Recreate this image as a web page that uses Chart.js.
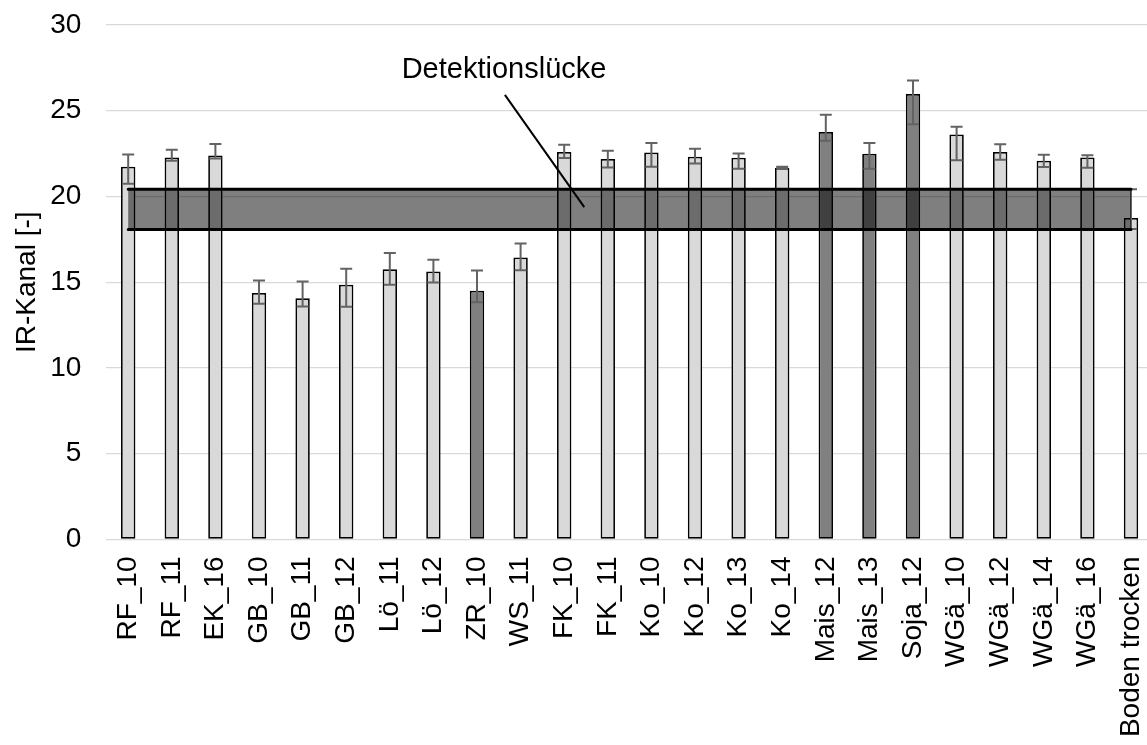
<!DOCTYPE html>
<html><head><meta charset="utf-8">
<script src="https://cdn.jsdelivr.net/npm/chart.js@4.4.1/dist/chart.umd.min.js"></script>
<style>
html,body{margin:0;padding:0;overflow:hidden;background:#fff;width:1147px;height:745px}
#wrap{position:absolute;left:0;top:0;width:1160px;height:745px}
canvas{display:block}
</style>
</head><body><div id="wrap"><canvas id="c" width="1160" height="745" style="width:1160px;height:745px"></canvas></div>
<script>
// ---- data ----
const categories = ['RF_10','RF_11','EK_16','GB_10','GB_11','GB_12','Lö_11','Lö_12','ZR_10','WS_11','FK_10','FK_11','Ko_10','Ko_12','Ko_13','Ko_14','Mais_12','Mais_13','Soja_12','WGä_10','WGä_12','WGä_14','WGä_16','Boden trocken'];
const values  = [21.73,22.28,22.39,14.38,14.07,14.85,15.76,15.63,14.50,16.44,22.59,22.18,22.57,22.32,22.26,21.66,23.76,22.49,25.97,23.62,22.59,22.08,22.28,18.74];
const errHigh = [22.45,22.72,23.06,15.10,15.04,15.78,16.70,16.31,15.68,17.26,23.02,22.67,23.12,22.78,22.51,21.73,24.77,23.12,26.77,24.07,23.04,22.43,22.41,20.43];
const errLow  = [20.74,22.08,22.22,13.74,13.58,13.57,14.85,14.98,13.84,15.70,22.24,21.69,21.73,21.93,21.62,21.62,23.25,21.62,24.22,22.12,22.14,21.72,21.67,18.10];
const darkBars = ['ZR_10','Mais_12','Mais_13','Soja_12'];
const yTicks = [0,5,10,15,20,25,30];
const bandLow = 18.07, bandHigh = 20.43;
const bandFrom = 'RF_10', bandTo = 'Boden trocken';
const noteText = 'Detektionslücke';
const notePos = {x: 8.62, y: 26.91};
const noteArrowFrom = {x: 8.64, y: 25.93};
const noteArrowTo = {x: 10.46, y: 19.38};
const yTitle = 'IR-Kanal [-]';

const FONT = '"Liberation Sans", Arial, sans-serif';
const FS = 28;

const overlay = {
  id: 'overlay',
  afterDatasetsDraw(chart) {
    const ctx = chart.ctx, xs = chart.scales.x, ys = chart.scales.y;
    ctx.save();
    // error bars
    ctx.strokeStyle = '#636363';
    ctx.lineWidth = 2;
    const cap = 6;
    categories.forEach((c, i) => {
      const x = xs.getPixelForValue(i);
      const yh = ys.getPixelForValue(errHigh[i]);
      const yl = ys.getPixelForValue(errLow[i]);
      ctx.beginPath();
      ctx.moveTo(x, yh); ctx.lineTo(x, yl);
      ctx.moveTo(x - cap, yh); ctx.lineTo(x + cap, yh);
      ctx.moveTo(x - cap, yl); ctx.lineTo(x + cap, yl);
      ctx.stroke();
    });
    // band
    const x0 = xs.getPixelForValue(categories.indexOf(bandFrom));
    const x1 = xs.getPixelForValue(categories.indexOf(bandTo));
    const yTop = ys.getPixelForValue(bandHigh);
    const yBot = ys.getPixelForValue(bandLow);
    ctx.fillStyle = 'rgba(0,0,0,0.5)';
    ctx.fillRect(x0, yTop, x1 - x0, yBot - yTop);
    ctx.strokeStyle = '#000';
    ctx.lineWidth = 3;
    ctx.lineCap = 'round';
    ctx.beginPath();
    ctx.moveTo(x0, yTop); ctx.lineTo(x1, yTop);
    ctx.moveTo(x0, yBot); ctx.lineTo(x1, yBot);
    ctx.stroke();
    // annotation
    ctx.lineWidth = 2;
    ctx.lineCap = 'butt';
    ctx.beginPath();
    ctx.moveTo(xs.getPixelForValue(noteArrowFrom.x), ys.getPixelForValue(noteArrowFrom.y));
    ctx.lineTo(xs.getPixelForValue(noteArrowTo.x), ys.getPixelForValue(noteArrowTo.y));
    ctx.stroke();
    ctx.fillStyle = '#000';
    ctx.font = '29px ' + FONT;
    ctx.textAlign = 'center';
    ctx.textBaseline = 'alphabetic';
    ctx.fillText(noteText, xs.getPixelForValue(notePos.x), ys.getPixelForValue(notePos.y));
    ctx.restore();
  }
};

new Chart(document.getElementById('c'), {
  type: 'bar',
  data: {
    labels: categories,
    datasets: [{
      data: values,
      backgroundColor: categories.map(c => darkBars.includes(c) ? '#808080' : '#d9d9d9'),
      borderColor: '#000',
      borderWidth: 1.75,
      borderSkipped: false,
      barPercentage: 0.33,
      categoryPercentage: 1
    }]
  },
  options: {
    responsive: false,
    animation: false,
    devicePixelRatio: 1,
    layout: {padding: {left: 4, top: 25, right: 7.2, bottom: 0}},
    plugins: {legend: {display: false}, tooltip: {enabled: false}},
    scales: {
      x: {
        grid: {display: false, drawTicks: false},
        border: {display: false},
        ticks: {
          autoSkip: false, minRotation: 90, maxRotation: 90, padding: 17,
          color: '#000', font: {family: FONT, size: FS}
        },
        afterFit(s) { s.height = 205.5; s.paddingLeft = 0; s.paddingRight = 0; }
      },
      y: {
        min: 0, max: 30,
        grid: {color: '#d9d9d9', lineWidth: 1.3, drawTicks: false},
        border: {display: false},
        ticks: {padding: 25, color: '#000', font: {family: FONT, size: FS}},
        afterBuildTicks(s) { s.ticks = yTicks.map(v => ({value: v})); },
        title: {display: true, text: yTitle, color: '#000', font: {family: FONT, size: FS}, padding: {top: 6, bottom: 4}},
        afterFit(s) { s.width = 102.4; s.paddingTop = 0; s.paddingBottom = 0; }
      }
    }
  },
  plugins: [overlay]
});
</script>
</body></html>
